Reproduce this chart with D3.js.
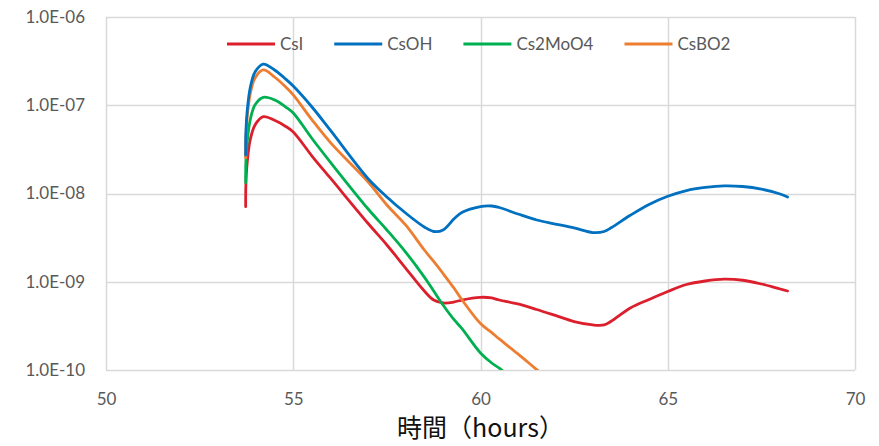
<!DOCTYPE html>
<html>
<head>
<meta charset="utf-8">
<script src="https://cdn.jsdelivr.net/npm/d3@7"></script>
<style>
  html, body { margin: 0; padding: 0; background: #fff; }
  svg { display: block; }
</style>
</head>
<body>
<div id="chart"></div>
<script>
// Time axis (hours) shared by all series
const hours = [53.73, 53.735, 53.77, 53.85, 53.98, 54.2, 54.5, 54.8, 55, 55.5, 56, 57, 57.5, 58, 58.5, 58.75,
  59, 59.3, 59.5, 60, 60.3, 60.5, 61, 61.5, 62, 62.5, 63, 63.3, 63.5, 64, 64.5, 65, 65.5, 66, 66.5,
  67, 67.5, 68, 68.2];

const seriesNames = ["CsI", "CsOH", "Cs2MoO4", "CsBO2"];

const csI = [7.09e-9, 1.25e-8, 2.22e-8, 4.04e-8, 5.97e-8, 7.42e-8, 6.75e-8, 5.75e-8, 4.98e-8, 2.66e-8, 1.48e-8,
  4.57e-9, 2.61e-9, 1.43e-9, 7.86e-10, 6.21e-10, 5.75e-10, 5.90e-10, 6.21e-10, 6.66e-10, 6.55e-10,
  6.21e-10, 5.60e-10, 4.85e-10, 4.15e-10, 3.54e-10, 3.24e-10, 3.24e-10, 3.59e-10, 5.04e-10, 6.29e-10,
  7.75e-10, 9.31e-10, 1.02e-9, 1.07e-9, 1.04e-9, 9.43e-10, 8.28e-10, 7.86e-10];

const csOH = [2.73e-8, 4.85e-8, 8.61e-8, 1.57e-7, 2.38e-7, 2.93e-7, 2.51e-7, 1.98e-7, 1.65e-7, 9.55e-8, 5.15e-8,
  1.47e-8, 9.13e-9, 6.01e-9, 4.17e-9, 3.71e-9, 3.86e-9, 5.20e-9, 6.09e-9, 7.12e-9, 7.22e-9,
  6.94e-9, 5.86e-9, 5.01e-9, 4.51e-9, 4.07e-9, 3.61e-9, 3.71e-9, 4.12e-9, 5.66e-9, 7.51e-9,
  9.30e-9, 1.08e-8, 1.17e-8, 1.22e-8, 1.20e-8, 1.12e-8, 9.87e-9, 9.13e-9];

// These two fall below the axis floor, so their lists stop early
const cs2MoO4 = [1.32e-8, 2.28e-8, 3.83e-8, 6.81e-8, 1.01e-7, 1.23e-7, 1.15e-7, 9.55e-8, 8.17e-8, 4.20e-8, 2.24e-8,
  6.67e-9, 3.86e-9, 2.17e-9, 1.13e-9, 7.86e-10, 5.45e-10, 3.69e-10, 2.96e-10, 1.56e-10, 1.20e-10,
  1.05e-10, 7.03e-11];

const csBO2 = [2.53e-8, 4.25e-8, 7.36e-8, 1.34e-7, 2.04e-7, 2.51e-7, 2.09e-7, 1.61e-7, 1.31e-7, 6.84e-8, 3.75e-8,
  1.35e-8, 7.41e-9, 4.40e-9, 2.29e-9, 1.70e-9, 1.24e-9, 8.38e-10, 6.29e-10, 3.36e-10, 2.65e-10,
  2.25e-10, 1.52e-10, 1.01e-10, 6.76e-11];

const xTicks = [50, 55, 60, 65, 70];
const yTicks = [1e-10, 1e-9, 1e-8, 1e-7, 1e-6];
const yTickLabels = ["1.0E-10", "1.0E-09", "1.0E-08", "1.0E-07", "1.0E-06"];
const xTitle = "時間（hours）";

const colors = ["#DC1F2D", "#0070C0", "#00B050", "#ED7D31"];
const seriesValues = [csI, csOH, cs2MoO4, csBO2];
// draw order: later series on top
const drawOrder = [0, 2, 3, 1];

const W = 879, H = 446;
const margin = { left: 106, right: 24, top: 17, bottom: 76 };

const svg = d3.select("#chart").append("svg").attr("width", W).attr("height", H);

const x = d3.scaleLinear().domain([50, 70]).range([margin.left, W - margin.right]);
const y = d3.scaleLog().domain([1e-10, 1e-6]).range([H - margin.bottom, margin.top]);

const tickFont = "Lato, 'Open Sans', 'Liberation Sans', sans-serif";
const grey = "#595959";
const gridColor = "#d9d9d9";

// gridlines
const grid = svg.append("g");
grid.selectAll("line.h").data(yTicks).join("line")
  .attr("x1", x(50)).attr("x2", x(70))
  .attr("y1", d => Math.round(y(d)) + 0.5).attr("y2", d => Math.round(y(d)) + 0.5)
  .attr("stroke", gridColor).attr("stroke-width", 1.5);
grid.selectAll("line.v").data(xTicks).join("line")
  .attr("y1", y(1e-10)).attr("y2", y(1e-6))
  .attr("x1", d => Math.round(x(d)) + 0.5).attr("x2", d => Math.round(x(d)) + 0.5)
  .attr("stroke", gridColor).attr("stroke-width", 1.5);

// axes (labels only, lines are the grid)
const yAxis = d3.axisLeft(y).tickValues(yTicks)
  .tickFormat((d, i) => yTickLabels[i]).tickSize(0).tickPadding(21);
svg.append("g").attr("transform", `translate(${x(50)},0)`).call(yAxis)
  .call(g => g.select(".domain").remove())
  .call(g => g.selectAll("text").attr("fill", grey).style("font-family", tickFont).style("font-size", "17px"));

const xAxis = d3.axisBottom(x).tickValues(xTicks).tickFormat(d3.format("d")).tickSize(0).tickPadding(23);
svg.append("g").attr("transform", `translate(0,${y(1e-10)})`).call(xAxis)
  .call(g => g.select(".domain").remove())
  .call(g => g.selectAll("text").attr("fill", grey).style("font-family", tickFont).style("font-size", "17px"));

// axis title
svg.append("text")
  .attr("x", (x(50) + x(70)) / 2).attr("y", 437)
  .attr("text-anchor", "middle")
  .style("font-family", "'Noto Sans CJK JP', sans-serif")
  .style("font-size", "25px").attr("fill", "#111")
  .text(xTitle);

// clip lines to plot area
svg.append("clipPath").attr("id", "plotClip").append("rect")
  .attr("x", x(50)).attr("y", y(1e-6) - 3)
  .attr("width", x(70) - x(50)).attr("height", y(1e-10) - y(1e-6) + 3);

const line = d3.line()
  .x(d => x(d[0])).y(d => y(d[1]))
  .curve(d3.curveCatmullRom.alpha(0.5));

const plot = svg.append("g").attr("clip-path", "url(#plotClip)");
drawOrder.forEach(i => {
  const vals = seriesValues[i];
  const pts = vals.map((v, k) => [hours[k], v]);
  plot.append("path").datum(pts)
    .attr("d", line)
    .attr("fill", "none")
    .attr("stroke", colors[i])
    .attr("stroke-width", 2.8)
    .attr("stroke-linejoin", "round")
    .attr("stroke-linecap", "round");
});

// legend
const legend = svg.append("g");
const legendY = 44;
const items = seriesNames.map((name, i) => {
  const g = legend.append("g");
  g.append("line").attr("x1", 0).attr("x2", 48).attr("y1", legendY).attr("y2", legendY)
    .attr("stroke", colors[i]).attr("stroke-width", 3);
  const t = g.append("text").attr("x", 53).attr("y", legendY).attr("dy", "0.35em")
    .attr("fill", grey).style("font-family", tickFont).style("font-size", "17px").text(name);
  return { g, w: 53 + t.node().getComputedTextLength() };
});
const gap = 31;
let cx = 227;
items.forEach(it => { it.g.attr("transform", `translate(${cx},0)`); cx += it.w + gap; });
</script>
</body>
</html>
